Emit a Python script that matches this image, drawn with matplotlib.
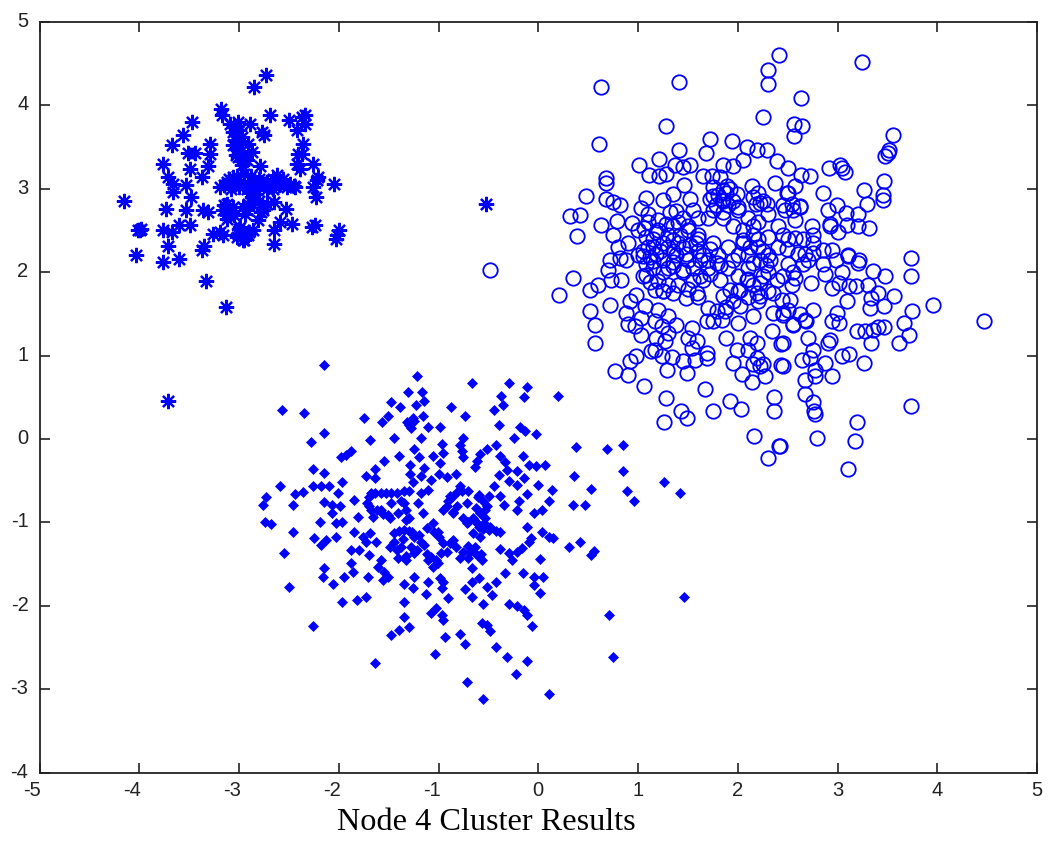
import matplotlib
matplotlib.use("Agg")
import matplotlib.pyplot as plt
from matplotlib.transforms import ScaledTranslation

# Star cluster (top left)
star_x = [-2.73, -2.85, -2.69, -2.50, -2.37, -2.34, -2.42, -2.34, -3.18, -3.17, -3.09, -3.01, -2.89, -2.77, -2.75,
          -3.47, -3.56, -3.67, -3.29, -3.51, -3.44, -3.76, -3.31, -3.49, -3.29, -3.71, -3.66, -3.66, -3.53, -3.48,
          -3.37, -4.15, -3.73, -3.53, -3.36, -3.31, -3.99, -3.98, -4.01, -3.76, -3.67, -3.60, -3.49, -3.71, -4.03,
          -3.76, -3.60, -3.35, -3.37, -3.33, -3.13, -3.71, -2.05, -2.22, -2.26, -2.21, -2.23, -2.26, -2.27, -2.24,
          -2.00, -2.03, -2.02, -2.65, -2.65, -2.59, -2.47, -2.53, -2.65, -2.36, -2.41, -2.37, -2.42, -2.39, -2.62,
          -2.56, -2.49, -2.44, -2.59, -2.66, -3.06, -3.04, -3.02, -3.01, -2.97, -2.91, -2.87, -2.92, -2.79, -3.19,
          -3.12, -3.06, -2.99, -3.06, -2.86, -2.79, -2.72, -2.91, -3.12, -3.16, -3.09, -3.06, -3.12, -2.94, -2.91,
          -2.87, -2.82, -2.96, -2.76, -2.72, -2.81, -2.86, -2.99, -3.01, -2.96, -2.91, -2.97, -3.26, -3.19, -3.16,
          -0.52]
star_y = [4.36, 4.22, 3.88, 3.83, 3.86, 3.88, 3.70, 3.78, 3.96, 3.88, 3.78, 3.80, 3.78, 3.68, 3.64,
          3.80, 3.64, 3.52, 3.54, 3.43, 3.43, 3.30, 3.27, 3.24, 3.42, 3.14, 3.06, 2.96, 3.04, 2.90,
          3.14, 2.85, 2.76, 2.74, 2.74, 2.72, 2.51, 2.52, 2.50, 2.50, 2.48, 2.56, 2.56, 2.31, 2.21,
          2.12, 2.16, 2.31, 2.26, 1.89, 1.58, 0.46, 3.06, 3.10, 3.02, 3.14, 2.90, 3.30, 2.54, 2.56,
          2.51, 2.40, 2.45, 2.34, 2.50, 2.60, 2.58, 2.76, 2.84, 3.54, 3.42, 3.42, 3.30, 3.24, 3.16,
          3.12, 3.06, 3.02, 3.06, 3.00, 3.68, 3.58, 3.48, 3.38, 3.28, 3.54, 3.44, 3.34, 3.27, 3.02,
          3.08, 3.14, 3.08, 3.04, 3.06, 3.08, 3.08, 3.02, 2.82, 2.74, 2.70, 2.78, 2.64, 2.70, 2.82,
          2.90, 2.98, 2.78, 2.74, 2.82, 2.62, 2.50, 2.54, 2.46, 2.38, 2.44, 2.44, 2.46, 2.48, 2.44,
          2.82]
star_core_x = [-3.05, -3.03, -3.00, -2.98, -2.95, -3.03, -3.06, -2.97, -3.00, -3.15, -3.08, -3.00, -2.92, -2.85,
               -2.80, -2.72, -2.66, -2.60, -2.52, -2.45, -3.10, -3.02, -2.95, -2.88, -3.15, -3.10, -3.05, -3.12,
               -3.00, -2.97, -2.95, -2.90, -3.02, -2.88, -2.85, -2.92, -2.80, -2.78]
star_core_y = [3.75, 3.65, 3.55, 3.45, 3.35, 3.40, 3.52, 3.62, 3.70, 3.05, 3.00, 3.02, 3.00, 3.00,
               3.12, 3.00, 3.12, 3.05, 3.02, 3.03, 3.12, 3.15, 3.18, 3.15, 2.80, 2.75, 2.68, 2.68,
               2.52, 2.45, 2.38, 2.48, 2.42, 2.95, 2.85, 2.75, 2.85, 2.72]

# Diamond cluster (bottom)
diamond_x = [-2.15, -2.57, -2.35, -1.22, -0.66, -0.29, -0.11, 0.20, -1.31, -1.17, -1.15, -1.23, -1.48, -1.39, -0.87,
             -0.73, -0.37, -0.14, -0.35, -0.44, -1.75, -1.51, -1.57, -1.16, -1.26, -1.30, -1.32, -1.28, -1.25, -1.11,
             -0.98, -0.39, -0.18, -0.13, -0.02, -2.15, -2.28, -1.69, -1.45, -1.18, -0.75, -0.24, -0.42, -0.78, -0.96,
             0.38, 0.69, 0.85, -1.25, -1.88, -1.93, -1.98, -1.40, -1.55, -1.20, -0.95, -1.06, -0.76, -0.75, -0.51,
             -0.58, -0.61, -0.63, -0.38, -0.33, -0.15, -0.09, -0.02, 0.07, -0.98, -1.29, -1.15, -1.64, -2.26, -2.15,
             -1.73, -1.64, -1.29, -1.18, -1.00, -0.91, -0.82, -1.08, -1.26, 0.36, 0.85, 1.26, 1.42, 0.53, 0.89,
             0.96, 0.00, -0.39, -0.31, -0.21, -0.14, -0.21, -0.29, -1.97, -2.59, -2.26, -2.18, -2.10, -2.44, -2.36,
             -2.73, -2.76, -2.46, -2.01, -1.85, -2.15, -2.07, -1.99, -2.07, -2.74, -2.68, -2.19, -2.03, -1.97, -1.81,
             -2.46, -1.68, -1.58, -1.48, -1.35, -1.72, -1.68, -1.58, -1.66, -1.48, -1.35, -1.41, -1.33, -1.51, -1.18,
             -1.21, -1.16, -1.11, -0.78, -0.88, -0.91, -0.85, -0.71, -0.76, -0.81, -0.59, -0.49, -0.51, -0.58, -0.64,
             -0.71, -0.54, -0.44, -0.38, -0.34, -0.19, -0.21, -0.11, 0.14, 0.11, 0.04, -0.04, 0.35, 0.47, -0.11,
             0.04, 0.11, 0.15, -0.07, -0.09, 0.31, 0.42, 0.56, 0.53, -0.59, -0.49, -0.38, -0.58, -1.06, -1.01,
             -0.85, -0.95, -1.85, -1.76, -1.69, -1.63, -1.73, -2.25, -2.18, -2.13, -2.03, -2.55, -1.88, -1.80, -1.70,
             -1.45, -1.35, -1.25, -1.28, -1.18, -1.38, -1.49, -1.41, -1.33, -1.25, -1.08, -1.01, -1.11, -1.06, -0.78,
             -0.68, -0.91, -0.56, -0.61, -0.38, -0.29, -0.26, -0.21, -0.16, 0.02, -0.66, -2.15, -2.16, -2.06, -1.88,
             -1.86, -1.95, -1.71, -1.58, -1.61, -1.55, -1.51, -1.56, -2.50, -1.25, -1.35, -1.26, -1.11, -1.13, -0.98,
             -0.95, -0.96, -0.90, -0.59, -0.66, -0.73, -0.66, -0.51, -0.46, -0.42, -0.33, -0.15, -0.04, 0.05, -0.04,
             0.02, -1.97, -1.82, -1.73, -1.35, -1.35, -0.55, -0.29, -0.21, -0.14, -0.11, -1.03, -1.08, -0.96, -0.95,
             -2.26, -1.30, -1.40, -1.48, -0.56, -0.51, -0.48, -0.06, -0.93, -0.78, -0.73, -0.42, -0.31, -0.11, -0.22,
             -1.04, -1.64, -0.71, -0.55, 0.11, 0.71, 0.75, 1.46]
diamond_y = [0.89, 0.35, 0.31, 0.76, 0.67, 0.67, 0.62, 0.52, 0.56, 0.56, 0.46, 0.41, 0.44, 0.38, 0.38,
             0.28, 0.51, 0.50, 0.41, 0.35, 0.25, 0.28, 0.20, 0.28, 0.25, 0.17, 0.20, 0.13, 0.22, 0.14,
             0.14, 0.17, 0.14, 0.09, 0.06, 0.07, -0.04, -0.01, 0.01, 0.01, 0.01, 0.01, -0.07, -0.07, -0.06,
             -0.10, -0.12, -0.07, -0.12, -0.14, -0.19, -0.22, -0.20, -0.26, -0.22, -0.17, -0.20, -0.15, -0.22, -0.12,
             -0.18, -0.27, -0.34, -0.20, -0.28, -0.20, -0.31, -0.33, -0.31, -0.29, -0.31, -0.35, -0.36, -0.36, -0.41,
             -0.44, -0.47, -0.42, -0.45, -0.42, -0.46, -0.42, -0.49, -0.52, -0.44, -0.38, -0.52, -0.65, -0.60, -0.62,
             -0.74, -0.55, -0.43, -0.37, -0.39, -0.47, -0.55, -0.51, -0.52, -0.57, -0.57, -0.57, -0.57, -0.66, -0.64,
             -0.70, -0.79, -0.79, -0.65, -0.73, -0.76, -0.79, -0.81, -0.89, -1.00, -1.02, -1.00, -1.01, -1.00, -0.94,
             -1.12, -0.65, -0.65, -0.65, -0.63, -0.77, -0.85, -0.85, -0.94, -0.77, -0.77, -0.89, -0.97, -0.91, -0.65,
             -0.77, -0.89, -0.61, -0.57, -0.69, -0.81, -0.89, -0.77, -0.63, -0.81, -0.67, -0.69, -0.81, -0.89, -0.97,
             -1.01, -1.01, -0.57, -0.69, -0.79, -0.75, -0.85, -0.66, -0.61, -0.75, -0.85, -0.89, -0.79, -0.79, -1.05,
             -1.12, -1.17, -1.19, -1.19, -1.24, -1.29, -1.24, -1.34, -1.39, -1.05, -1.09, -1.11, -1.17, -1.01, -1.11,
             -1.21, -1.25, -1.11, -1.17, -1.13, -1.23, -1.23, -1.19, -1.27, -1.21, -1.17, -1.37, -1.33, -1.33, -1.39,
             -1.13, -1.09, -1.17, -1.29, -1.23, -1.29, -1.29, -1.43, -1.45, -1.37, -1.41, -1.49, -1.45, -1.53, -1.43,
             -1.35, -1.35, -1.45, -1.39, -1.32, -1.37, -1.45, -1.35, -1.31, -1.44, -1.55, -1.55, -1.66, -1.74, -1.49,
             -1.59, -1.66, -1.65, -1.45, -1.53, -1.59, -1.65, -1.69, -1.77, -1.65, -1.74, -1.79, -1.71, -1.86, -1.67,
             -1.71, -1.79, -1.91, -1.67, -1.71, -1.80, -1.90, -1.77, -1.87, -1.71, -1.61, -1.61, -1.65, -1.66, -1.75,
             -1.85, -1.95, -1.93, -1.90, -1.95, -2.13, -1.98, -1.98, -2.00, -2.05, -2.11, -2.03, -2.09, -2.11, -2.17,
             -2.24, -2.26, -2.29, -2.35, -2.21, -2.23, -2.30, -2.24, -2.37, -2.34, -2.46, -2.50, -2.61, -2.66, -2.82,
             -2.58, -2.69, -2.91, -3.12, -3.06, -2.11, -2.61, -1.89]
diamond_core_x = [-1.64, -1.53, -1.42, -1.30, -1.70, -1.70, -1.62, -1.56, -1.49, -1.38, -1.33, -1.30, -1.40, -1.36,
                  -1.45, -1.30, -1.27, -1.20, -1.12, -1.05, -1.00, -1.15, -1.42, -1.33, -1.22, -1.12, -1.03, -0.97,
                  -0.90, -0.85, -0.80, -0.70, -0.60, -0.55, -0.53, -0.62, -0.85, -0.95, -0.75, -0.70, -0.65, -0.60,
                  -0.53, -0.48, -0.42, -0.55, -0.65, -0.88, -0.82, -0.75, -0.70, -0.63, -0.57, -0.70]
diamond_core_y = [-0.65, -0.65, -0.65, -0.63, -0.70, -0.80, -0.85, -0.90, -0.95, -0.75, -0.85, -0.95, -1.10, -1.20,
                  -1.23, -1.10, -1.12, -1.15, -1.07, -1.12, -1.17, -1.27, -1.33, -1.40, -1.33, -1.38, -1.45, -1.37,
                  -0.75, -0.68, -0.62, -0.63, -0.70, -0.75, -0.85, -0.83, -0.88, -0.85, -0.95, -1.00, -0.95, -1.02,
                  -0.95, -1.05, -1.10, -1.08, -1.13, -1.25, -1.30, -1.35, -1.28, -1.30, -1.38, -1.43]

# Circle cluster (top right)
circle_x = [2.41, 2.30, 2.30, 2.25, 1.41, 0.63, 1.28, 0.61, 1.72, 1.94, 1.68, 1.41, 1.21, 1.01, 1.11, 1.21, 1.28,
            1.37, 1.52, 1.45, 2.09, 2.19, 2.29, 2.39, 2.05, 1.95, 1.85, 1.65, 1.74, 0.68, 0.68, 0.48, 1.46, 1.35,
            1.52, 1.08, 0.68, 0.75, 0.82, 0.32, 0.42, 0.63, 0.39, 0.79, 0.94, 1.06, 1.03, 1.25, 1.38, 2.37, 2.49,
            2.14, 1.75, 1.89, 1.84, 1.99, 2.22, 2.29, 1.82, 1.85,
            3.25, 2.63, 2.56, 2.64, 2.56, 3.56, 3.52, 3.51, 3.48, 2.91, 3.03, 3.05, 3.08, 2.50, 2.63, 2.72, 3.47,
            3.27, 3.46, 3.46, 3.30, 2.85, 2.57, 2.50, 2.99, 2.90, 3.09, 3.21, 2.92, 2.62, 2.47, 2.54, 2.57, 3.32,
            3.21, 3.10, 2.74, 2.75, 3.00, 2.45, 2.57, 2.92, 2.85, 2.94, 3.11, 3.74, 2.67, 2.49, 3.22,
            3.74, 3.11, 3.21, 3.36, 3.48, 2.87, 3.05, 2.98, 2.73, 2.57, 2.54, 3.31, 2.94, 3.02, 3.12, 3.19, 3.41,
            3.57, 3.34, 3.33, 3.47, 3.10, 3.75, 3.96, 4.47, 3.67, 3.62, 3.72, 3.47, 3.41, 3.36, 3.28, 3.20, 3.34,
            2.99, 2.94, 3.02, 2.75, 2.67, 2.55, 2.45, 2.52, 2.44, 2.70, 2.45, 2.92, 2.90, 2.75, 2.64, 2.72, 2.87,
            3.05, 3.12, 3.27, 2.45, 2.77, 2.77, 2.94, 2.67, 2.67, 2.75, 2.76, 2.77, 3.74, 3.20, 3.18, 2.79, 3.11,
            2.42,
            0.35, 0.21, 0.52, 0.60, 0.72, 0.52, 0.57, 0.57, 0.70, 0.72, 0.83, 0.73, 0.88, 0.82, 0.98, 0.92, 1.07,
            0.88, 1.03, 0.90, 0.97, 1.03, 1.20, 1.30, 1.17, 1.38, 1.24, 1.30, 1.18, 1.27, 1.17, 1.54, 1.50, 1.59,
            1.54, 1.69, 1.69, 1.57, 1.45, 1.34, 1.24, 1.13, 0.98, 0.92, 0.77, 0.90, 1.29, 1.49, 1.06, 1.28, 1.67,
            1.92, 2.03, 1.43, 1.49, 1.26, 1.75, 2.36, 2.36, 2.16, 2.41, 2.30, 1.88, 2.00, 1.69, 1.75, 1.84, 1.99,
            1.95, 2.04, 2.14, 2.27, 2.25, 2.43, 2.43, 2.12, 2.15, 2.19, 2.22, 2.10, 2.19, 2.34, 2.15, 2.02, 2.35,
            2.45, 2.19, 2.02, 1.87, 1.79, 1.92, 1.70, 1.82, 1.65, 1.55, 1.45, 1.59, 1.48, 1.35, 1.25, 1.17, 1.08,
            1.15, 1.25, 1.35, 1.65, 1.79, 1.95, 2.15, 2.32, 2.39, 2.22, 2.09, 2.35, 1.18, 1.05,
            1.10, 1.20, 1.30, 1.40, 1.50, 1.60, 1.45, 1.35, 1.25, 1.60, 1.75, 1.85, 1.90, 2.00, 1.95, 2.10, 2.20,
            2.30, 2.40, 2.50, 2.20, 2.05, 1.90, 1.80, 2.00, 2.25, 2.40, 1.50, 1.70, 1.90, 1.30, 1.10, 1.00, 0.90,
            0.80, 0.75, 1.00, 2.10, 2.30, 2.50, 2.65, 2.75, 2.85, 1.70, 1.55, 1.75, 1.60, 1.35, 1.15, -0.48]
circle_y = [4.60, 4.42, 4.26, 3.86, 4.28, 4.22, 3.75, 3.54, 3.60, 3.57, 3.43, 3.47, 3.36, 3.28, 3.17, 3.15, 3.18,
            3.29, 3.29, 3.26, 3.50, 3.46, 3.46, 3.33, 3.35, 3.27, 3.28, 3.15, 3.15, 3.13, 3.07, 2.91, 3.04, 2.94,
            2.88, 2.89, 2.88, 2.84, 2.81, 2.67, 2.69, 2.56, 2.43, 2.61, 2.59, 2.53, 2.77, 2.87, 2.73, 3.07, 2.95,
            3.03, 2.91, 3.03, 2.87, 2.94, 2.83, 2.82, 3.14, 2.98,
            4.52, 4.09, 3.78, 3.75, 3.63, 3.65, 3.47, 3.43, 3.39, 3.25, 3.29, 3.25, 3.20, 3.25, 3.16, 3.15, 3.09,
            2.99, 2.92, 2.87, 2.82, 2.95, 3.03, 2.95, 2.81, 2.75, 2.71, 2.70, 2.58, 2.79, 2.75, 2.82, 2.63, 2.53,
            2.55, 2.57, 2.55, 2.45, 2.48, 2.45, 2.41, 2.55, 2.27, 2.27, 2.20, 2.17, 2.22, 2.28, 2.15,
            1.95, 2.19, 2.11, 2.01, 1.95, 1.98, 2.00, 2.14, 1.87, 1.93, 1.85, 1.85, 1.81, 1.87, 1.83, 1.83, 1.75,
            1.71, 1.69, 1.57, 1.60, 1.65, 1.53, 1.61, 1.42, 1.39, 1.15, 1.25, 1.34, 1.34, 1.31, 1.30, 1.29, 1.15,
            1.51, 1.41, 1.39, 1.55, 1.43, 1.37, 1.51, 1.67, 1.67, 1.21, 1.15, 1.19, 1.15, 1.07, 0.95, 0.97, 0.91,
            0.99, 1.02, 0.91, 0.88, 0.83, 0.75, 0.75, 0.71, 0.54, 0.44, 0.33, 0.30, 0.39, 0.20, -0.02, 0.01, -0.36,
            -0.09,
            1.93, 1.73, 1.79, 1.85, 1.61, 1.53, 1.37, 1.15, 2.03, 2.15, 1.91, 1.91, 2.15, 2.17, 1.73, 1.65, 1.59,
            1.51, 1.45, 1.38, 1.35, 1.25, 1.55, 1.47, 1.41, 1.37, 1.35, 1.27, 1.21, 1.17, 1.07, 1.33, 1.21, 1.17,
            1.09, 1.03, 0.97, 0.95, 0.93, 0.98, 1.00, 1.05, 1.00, 0.93, 0.81, 0.77, 0.83, 0.79, 0.63, 0.49, 0.60,
            0.46, 0.36, 0.34, 0.25, 0.20, 0.33, 0.50, 0.33, 0.04, -0.09, -0.23, 1.21, 1.39, 1.42, 1.42, 1.43, 1.07,
            0.91, 0.78, 0.68, 0.75, 0.90, 0.89, 1.14, 1.21, 0.90, 0.97, 0.87, 1.07, 1.15, 1.29, 1.47, 1.59, 1.51,
            1.49, 1.75, 1.79, 1.54, 1.54, 1.79, 1.57, 1.91, 1.91, 1.91, 2.03, 1.75, 1.69, 1.75, 1.77, 1.79, 1.97,
            2.13, 2.15, 2.07, 2.21, 2.11, 2.15, 2.11, 2.15, 1.91, 1.87, 1.91, 1.75, 2.22, 2.19,
            2.60, 2.50, 2.45, 2.60, 2.50, 2.40, 2.30, 2.25, 2.35, 2.25, 2.35, 2.65, 2.80, 2.75, 2.55, 2.65, 2.60,
            2.70, 2.55, 2.40, 2.40, 2.35, 2.30, 2.20, 2.20, 2.25, 2.30, 2.15, 2.05, 2.05, 2.05, 2.30, 2.50, 2.35,
            2.30, 2.45, 2.20, 2.05, 2.00, 2.10, 2.40, 2.35, 2.10, 2.65, 2.75, 2.75, 2.65, 2.55, 2.40, 2.03]
circle_core_x = [1.10, 1.20, 1.32, 1.45, 1.50, 1.42, 1.28, 1.18, 1.08, 1.05, 1.12, 1.22, 1.30, 1.40, 1.52, 1.62, 1.55,
                 1.45, 1.35, 1.25, 1.15, 1.08, 1.20, 1.30, 1.40, 1.50, 1.62, 1.72, 1.70, 1.60, 1.72, 1.82, 1.05, 1.25,
                 1.38, 1.48, 1.58, 1.35, 1.15, 1.12, 1.75, 1.80, 1.88, 1.95, 1.85, 1.78, 1.92, 2.00, 1.72, 1.85, 2.05,
                 2.15, 2.12, 2.20, 2.30, 2.10, 2.22, 2.30, 2.05, 2.28, 2.15, 2.20, 2.25, 2.18, 2.15, 2.45, 2.55, 2.62,
                 2.60, 2.70, 2.65, 2.75, 2.15, 2.22, 2.30, 2.20, 2.10, 1.85, 1.95, 2.00, 1.88, 2.50, 2.62, 2.68, 2.55,
                 1.60, 2.45, 2.55, 2.25, 2.10, 2.00]
circle_core_y = [2.70, 2.62, 2.72, 2.65, 2.55, 2.45, 2.58, 2.48, 2.42, 2.25, 2.18, 2.25, 2.30, 2.35, 2.32, 2.15, 2.05,
                 2.00, 2.12, 2.00, 2.05, 2.10, 1.90, 1.85, 1.85, 1.80, 1.95, 1.98, 2.15, 2.45, 2.28, 2.08, 1.95, 1.78,
                 2.20, 2.22, 2.35, 2.38, 2.30, 1.88, 3.02, 2.92, 2.95, 2.85, 2.85, 2.80, 3.00, 2.78, 2.88, 2.72, 2.50,
                 2.45, 2.30, 2.30, 2.42, 2.20, 2.15, 2.20, 2.38, 2.08, 2.55, 2.95, 2.85, 2.82, 2.90, 2.80, 2.75, 2.78,
                 2.22, 2.15, 2.10, 2.23, 1.85, 1.72, 1.78, 1.65, 1.70, 1.72, 1.65, 1.78, 1.58, 1.55, 1.50, 1.42, 1.38,
                 1.70, 1.95, 2.00, 1.95, 1.92, 1.95]

x_ticks = [-5, -4, -3, -2, -1, 0, 1, 2, 3, 4, 5]
y_ticks = [-4, -3, -2, -1, 0, 1, 2, 3, 4, 5]
caption = "Node 4 Cluster Results"

plt.rcParams["axes.unicode_minus"] = False
plt.rcParams["font.family"] = ["Liberation Sans", "DejaVu Sans"]

W, H = 1048, 841
fig = plt.figure(figsize=(W / 100, H / 100), dpi=100)
ax = fig.add_axes([39.5 / W, 1 - 772.5 / H, (1037 - 39.5) / W, (772.5 - 22) / H])

blue = "#0000ff"
ax.plot(circle_x + circle_core_x, circle_y + circle_core_y, "o", mfc="none", mec=blue, ms=10.4, mew=1.3)
ax.plot(star_x + star_core_x, star_y + star_core_y, marker=(8, 2, 0), ls="none", color=blue, ms=11, mew=1.6)
ax.plot(diamond_x + diamond_core_x, diamond_y + diamond_core_y, "D", color=blue, ms=5.5, mew=0.5)

ax.set_xlim(-5, 5)
ax.set_ylim(-4, 5)
ax.set_xticks(x_ticks)
ax.set_yticks(y_ticks)
ax.tick_params(direction="in", top=True, right=True, length=7, width=1.2, color="#222222",
               labelsize=14.5, labelcolor="#222222")
ax.tick_params(axis="x", pad=6)
ax.tick_params(axis="y", pad=8)
for s in ax.spines.values():
    s.set_linewidth(1.3)
    s.set_color("#222222")

# negative labels sit left of their tick, y labels slightly high
for val, lab in zip(x_ticks, ax.get_xticklabels()):
    if val < 0:
        lab.set_transform(lab.get_transform() + ScaledTranslation(-7 / 100, 0, fig.dpi_scale_trans))
for lab in ax.get_yticklabels():
    lab.set_transform(lab.get_transform() + ScaledTranslation(0, 2.5 / 100, fig.dpi_scale_trans))

fig.text(486 / W, 1 - 823 / H, caption, family="Liberation Serif", fontsize=23.2, color="black",
         ha="center", va="center")

fig.savefig("out.png", dpi=100)
